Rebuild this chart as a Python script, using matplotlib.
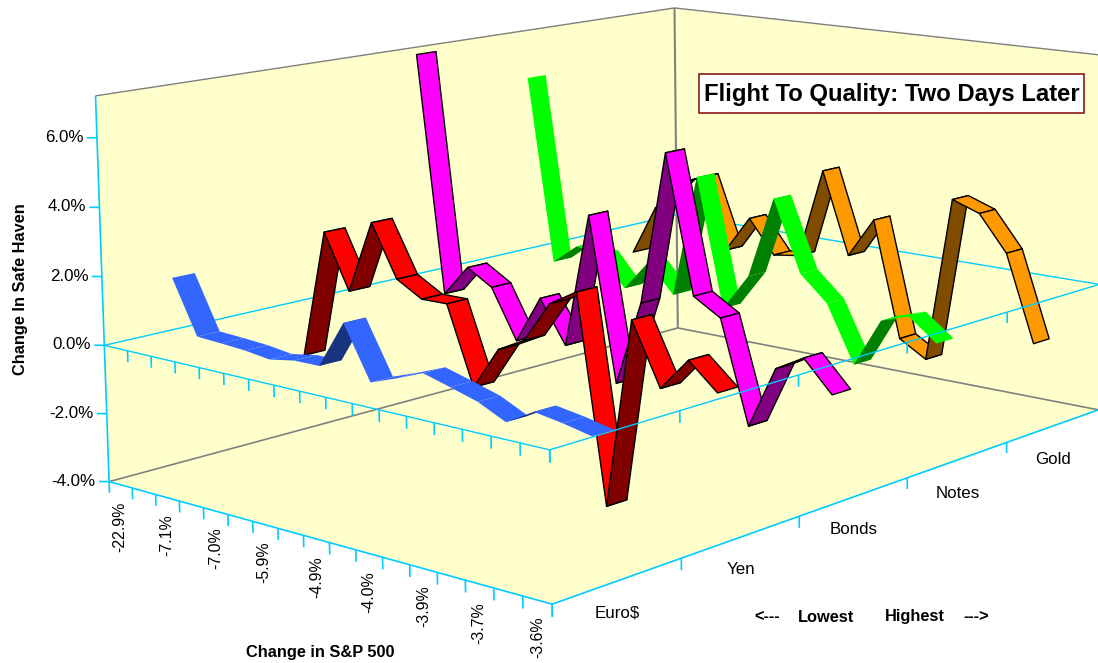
# 3D ribbon chart, camera matrix measured from the box corners of the original
import numpy as np
import matplotlib
matplotlib.use("Agg")
import matplotlib.pyplot as plt
from matplotlib.patches import Rectangle
from mpl_toolkits.mplot3d.art3d import Poly3DCollection

plt.rcParams['font.family'] = ['Liberation Sans', 'DejaVu Sans']

W = 1098
H = 663

series_names = ["Euro$", "Yen", "Bonds", "Notes", "Gold"]
sp_labels = ["-22.9%", "-7.1%", "-7.0%", "-5.9%", "-4.9%", "-4.0%", "-3.9%", "-3.7%", "-3.6%"]
z_ticks = [-4, -2, 0, 2, 4, 6]

euro = [1.66, 0.08, 0.04, -0.01, -0.11, 0.02, 0.03, 1.40, -0.11, 0.17, 0.48, 0.26, 0.03, -0.35, 0.10, -0.03, -0.20]
yen = [-1.55, 2.37, 0.72, 2.92, 1.37, 0.92, 0.93, -1.37, -0.10, 0.32, 1.53, 2.01, -3.94, 1.52, -0.24, 0.71, -0.03]
bonds = [7.07, -0.36, 0.61, 0.13, -1.39, 0.08, -1.22, 2.90, -2.06, 0.53, 5.14, 1.03, 0.53, -2.50, -0.64, -0.17, -1.07]
notes = [5.73, -0.18, 0.46, 0.33, -0.62, 0.36, -0.54, 3.33, -0.67, 0.48, 3.03, 0.85, 0.08, -1.65, -0.15, 0.13, -0.53]
gold = [-0.79, 0.86, 1.83, 2.14, -0.17, 1.02, -0.06, 0.06, 2.96, 0.34, 1.62, -2.06, -2.57, 2.66, 2.35, 1.24, -1.44]

all_series = [euro, yen, bonds, notes, gold]
bright = ["#3366FF", "#FF0000", "#FF00FF", "#00FF00", "#FF9900"]
dark = ["#19337F", "#800000", "#800080", "#008000", "#804C00"]
edge = ["none", "black", "black", "none", "black"]

# box limits
x0, x1 = 0, 17
d0, d1 = 0, 5
z0, z1 = -4, 7.2

yellow = "#FFFFCC"
cyan = "#00CCFF"
gray = "#808080"

# camera: data -> pixel
P = np.array([[22.27636, 143.03574, -1.36324, 103.80479],
              [2.93979, -17.08075, -34.79106, 344.83898],
              [-0.00714, 0.04226, -0.00149, 1.0]])


def to_pixel(x, d, z):
    q = P @ np.array([x, d, z, 1.0])
    return q[:2] / q[2]


fig = plt.figure(figsize=(W / 100, H / 100), dpi=100)
ax = fig.add_axes([0, 0, 1, 1], projection='3d', computed_zorder=False)
ax.apply_aspect = lambda position=None: None
ax.set_axis_off()


def my_proj():
    inv = ax.transData.inverted()
    a0, b0 = inv.transform((0, 0))
    a1, b1 = inv.transform((W, H))
    row0 = a0 * P[2] + (a1 - a0) / W * P[0]
    row1 = b1 * P[2] - (b1 - b0) / H * P[1]
    return np.array([row0, row1, [0, 0.05, 0, 0], P[2]])


ax.get_proj = my_proj


def quad(pts, color, ec="none", z=1, lw=1.0):
    c = Poly3DCollection([pts], facecolors=color, edgecolors=ec, linewidths=lw if ec != "none" else 0, zorder=z)
    c.set_clip_on(False)
    ax.add_collection3d(c)


# ax.plot loses lines away from the front plane here, so lines are flat polygons too
def seg(a, b, color, lw=1.2, z=2):
    quad([a, b], color, ec=color, z=z, lw=lw)


# walls and floor
quad([(x0, d0, z0), (x1, d0, z0), (x1, d1, z0), (x0, d1, z0)], yellow)
quad([(x0, d0, z0), (x0, d1, z0), (x0, d1, z1), (x0, d0, z1)], yellow)
quad([(x0, d1, z0), (x1, d1, z0), (x1, d1, z1), (x0, d1, z1)], yellow)

# box edges
seg((x0, d0, z0), (x0, d1, z0), gray)
seg((x0, d1, z0), (x1, d1, z0), gray)
seg((x0, d1, z0), (x0, d1, z1), gray, lw=1.5)
seg((x0, d0, z1), (x0, d1, z1), gray, lw=1.0)
seg((x0, d1, z1), (x1, d1, z1), gray, lw=1.0)
seg((x0, d0, z0), (x0, d0, z1), cyan)
seg((x0, d0, z0), (x1, d0, z0), cyan)
seg((x1, d0, z0), (x1, d1, z0), cyan)

# plane at zero, back half
seg((x0, d0, 0), (x0, d1, 0), cyan, lw=1.0)
seg((x0, d1, 0), (x1, d1, 0), cyan, lw=1.0)

# ticks
tl = 0.33
for t in range(18):
    seg((t, d0, z0), (t, d0, z0 - tl), cyan)
for t in range(1, 18):
    seg((t, d0, 0), (t, d0, -tl), cyan, z=50)
for t in range(0, 5):
    seg((x1, t, z0), (x1, t, z0 - tl), cyan)
    seg((x1, t, 0), (x1, t, -tl), cyan, z=50)
for t in z_ticks:
    seg((x0, d0, t), (x0 - 0.226, d0 - 0.035, t), cyan)

# ribbons, back series first, left to right inside a series
z_now = 3
for i in range(4, -1, -1):
    vals = all_series[i]
    near = i + 0.43
    far = i + 0.60
    for j in range(len(vals) - 1):
        xa = j + 0.5
        xb = j + 1.5
        u = to_pixel(xb, near, vals[j + 1]) - to_pixel(xa, near, vals[j])
        v = to_pixel(xa, far, vals[j]) - to_pixel(xa, near, vals[j])
        col = dark[i] if u[0] * v[1] - u[1] * v[0] > 0 else bright[i]
        quad([(xa, near, vals[j]), (xb, near, vals[j + 1]), (xb, far, vals[j + 1]), (xa, far, vals[j])],
             col, ec=edge[i], z=z_now)
        z_now += 0.01

# plane at zero, front half, in front of every ribbon
seg((x0, d0, 0), (x1, d0, 0), cyan, lw=1.0, z=50)
seg((x1, d0, 0), (x1, d1, 0), cyan, lw=1.0, z=50)


def label(px, py, s, **kw):
    fig.text(px / W, 1 - py / H, s, **kw)


for t in z_ticks:
    px, py = to_pixel(x0, d0, t)
    label(px - 13, py, f"{t:.1f}%", ha='right', va='center', fontsize=12.2)

sp_x = [120, 167, 216, 264, 317, 369, 424, 479, 538]
sp_y = [527, 535, 548, 562, 577, 592, 606, 623, 637]
for k in range(len(sp_labels)):
    label(sp_x[k], sp_y[k], sp_labels[k], rotation=90, ha='center', va='center', fontsize=11.4)

name_x = [617, 741, 854, 958, 1053]
name_y = [613, 570, 530, 493, 460]
for k in range(len(series_names)):
    label(name_x[k], name_y[k], series_names[k], ha='center', va='center', fontsize=12.2)

label(767, 617, "<---", ha='center', va='center', fontsize=11.8, fontweight='bold')
label(826, 617, "Lowest", ha='center', va='center', fontsize=11.8, fontweight='bold')
label(915, 617, "Highest", ha='center', va='center', fontsize=11.8, fontweight='bold')
label(976, 617, "--->", ha='center', va='center', fontsize=11.8, fontweight='bold')
label(320, 653, "Change in S&P 500", ha='center', va='center', fontsize=11.8, fontweight='bold')
label(20, 289, "Change In Safe Haven", rotation=90, ha='center', va='center', fontsize=11.8, fontweight='bold')

fig.add_artist(Rectangle((699 / W, 1 - 113 / H), 385 / W, 39 / H, transform=fig.transFigure,
                         facecolor='white', edgecolor='#8B1A1A', linewidth=1.2, zorder=2))
label(892, 94, "Flight To Quality: Two Days Later", ha='center', va='center', fontsize=17.2, fontweight='bold', zorder=3)

fig.savefig("out.png", dpi=100, facecolor='white')
